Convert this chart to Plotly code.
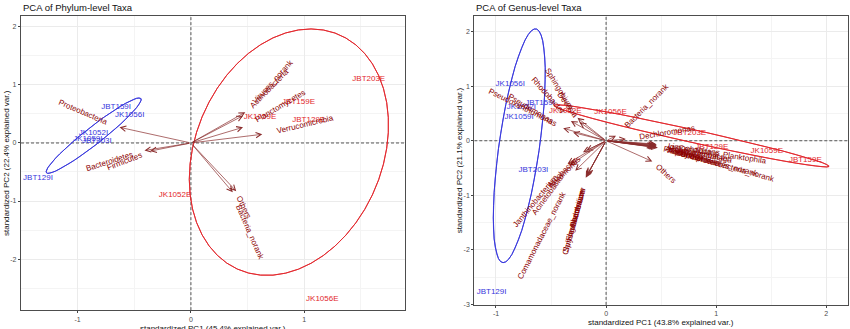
import math
import numpy as np
import plotly.graph_objects as go

W, H = 850, 329
FONT = "Liberation Sans, Arial, Helvetica, sans-serif"

# ---------------- Phylum-level PCA ----------------
phy_samples = ["JBT159I", "JK1056I", "JK1052I", "JK1059I", "JBT203I", "JBT129I",
               "JBT203E", "JBT159E", "JK1059E", "JBT129E", "JK1052E", "JK1056E"]
phy_pc1 = [-0.66, -0.54, -0.86, -0.91, -0.83, -1.35, 1.57, 0.95, 0.61, 1.04, -0.14, 1.16]
phy_pc2 = [0.62, 0.48, 0.18, 0.06, 0.03, -0.61, 1.10, 0.70, 0.44, 0.39, -0.90, -2.68]
phy_group = ["I"] * 6 + ["E"] * 6

phy_vars = ["Proteobacteria", "Bacteroidetes", "Firmicutes", "Viruses_norank",
            "Actinobacteria", "Planctomycetes", "Verrucomicrobia", "Others", "Bacteria_norank"]
phy_var_pc1 = [-0.63, -0.41, -0.36, 0.48, 0.46, 0.46, 0.63, 0.40, 0.37]
phy_var_pc2 = [0.27, -0.13, -0.14, 0.53, 0.47, 0.27, 0.15, -0.83, -0.85]

# ---------------- Genus-level PCA ----------------
gen_samples = ["JK1056I", "JBT159I", "JK1052I", "JK1059I", "JBT203I", "JBT129I",
               "JK1052E", "JK1056E", "JBT203E", "JBT129E", "JK1059E", "JBT159E"]
gen_pc1 = [-0.87, -0.60, -0.77, -0.79, -0.66, -1.04, -0.37, 0.04, 0.76, 0.96, 1.46, 1.81]
gen_pc2 = [1.04, 0.69, 0.61, 0.43, -0.54, -2.78, 0.54, 0.52, 0.145, -0.115, -0.19, -0.36]
gen_group = ["I"] * 6 + ["E"] * 6

gen_vars = ["Pseudoxanthomonas", "Pseudomonas", "Sphingobium", "Rhodobacter", "Devosia",
            "Janthinobacterium", "Acinetobacter", "Arcobacter", "Aeromonas",
            "Comamonadaceae_norank", "Chryseobacterium", "Flavobacterium", "Pedobacter",
            "Sphingobacterium",
            "Bacteria_norank", "Dechloromonas", "Others",
            "Limnohabitans", "Polynucleobacter", "Candidatus_Planktophila", "Acidovorax",
            "Aquabacterium", "Hydrogenophaga", "Methylotenera", "Rhodoferax",
            "Burkholderiales_norank", "Betaproteobacteria_norank"]
gen_var_pc1 = [-0.30, -0.39, -0.26, -0.32, -0.24,
               -0.35, -0.33, -0.21, -0.18,
               -0.28, -0.18, -0.175, -0.185, -0.17,
               0.09, 0.18, 0.42,
               0.45, 0.44, 0.46, 0.45, 0.44, 0.46, 0.45, 0.43, 0.46, 0.47]
gen_var_pc2 = [0.15, 0.23, 0.42, 0.36, 0.34,
               -0.42, -0.45, -0.21, -0.18,
               -0.55, -0.66, -0.64, -0.68, -0.62,
               0.09, 0.03, -0.38,
               -0.06, -0.08, -0.07, -0.10, -0.11, -0.09, -0.12, -0.10, -0.12, -0.13]

# ---------------- styling ----------------
COL = {"I": "#3636DC", "E": "#E2262B"}
ARROW_COL = "#8A2C2C"
VAR_COL = "#8B0000"
VAR_FS = 8
SAMPLE_FS = 8

AW = {'a': 556, 'b': 556, 'c': 500, 'd': 556, 'e': 556, 'f': 278, 'g': 556, 'h': 556, 'i': 222,
      'j': 222, 'k': 500, 'l': 222, 'm': 833, 'n': 556, 'o': 556, 'p': 556, 'q': 556, 'r': 333,
      's': 500, 't': 278, 'u': 556, 'v': 500, 'w': 722, 'x': 500, 'y': 500, 'z': 500,
      'A': 667, 'B': 667, 'C': 722, 'D': 722, 'E': 667, 'F': 611, 'G': 778, 'H': 722, 'I': 278,
      'J': 500, 'K': 667, 'L': 556, 'M': 833, 'N': 722, 'O': 778, 'P': 667, 'Q': 778, 'R': 722,
      'S': 667, 'T': 611, 'U': 722, 'V': 667, 'W': 944, 'X': 667, 'Y': 667, 'Z': 611, '_': 556}


def text_w(s, fs):
    return sum(AW.get(c, 556) for c in s) / 1000.0 * fs


def ellipse(xs, ys, prob=0.68, n=100):
    X = np.column_stack([xs, ys])
    mu = X.mean(axis=0)
    sigma = np.cov(X.T)
    ed = math.sqrt(-2.0 * math.log(1.0 - prob))
    th = np.concatenate([np.linspace(-np.pi, np.pi, n // 2), np.linspace(np.pi, -np.pi, n // 2)])
    circ = np.column_stack([np.cos(th), np.sin(th)])
    R = np.linalg.cholesky(sigma).T
    pts = circ @ R * ed + mu
    return pts[:, 0], pts[:, 1]


fig = go.Figure()
annotations = []

panels = [
    dict(xa="x", ya="y", xdom=(21 / W, 405 / W), ydom=((H - 313) / H, (H - 16) / H),
         xr=(-1.50, 1.89), yr=(-2.88, 2.19),
         samples=phy_samples, s1=phy_pc1, s2=phy_pc2, groups=phy_group,
         vars=phy_vars, v1=phy_var_pc1, v2=phy_var_pc2,
         xt=[-1, 0, 1], yt=[-2, -1, 0, 1, 2],
         xm=[-1.5, -0.5, 0.5, 1.5], ym=[-2.5, -1.5, -0.5, 0.5, 1.5],
         title="PCA of Phylum-level Taxa",
         xtitle="standardized PC1 (45.4% explained var.)",
         ytitle="standardized PC2 (22.4% explained var.)",
         ytitle_x=6, xtitle_y=332),
    dict(xa="x2", ya="y2", xdom=(474.3 / W, 848.3 / W), ydom=((H - 307.7) / H, (H - 16) / H),
         xr=(-1.197, 2.20), yr=(-3.01, 2.29),
         samples=gen_samples, s1=gen_pc1, s2=gen_pc2, groups=gen_group,
         vars=gen_vars, v1=gen_var_pc1, v2=gen_var_pc2,
         xt=[-1, 0, 1, 2], yt=[-3, -2, -1, 0, 1, 2],
         xm=[-0.5, 0.5, 1.5], ym=[-2.5, -1.5, -0.5, 0.5, 1.5],
         title="PCA of Genus-level Taxa",
         xtitle="standardized PC1 (43.8% explained var.)",
         ytitle="standardized PC2 (21.1% explained var.)",
         ytitle_x=459, xtitle_y=325.5),
]

layout_axes = {}
for i, p in enumerate(panels):
    xa, ya = p["xa"], p["ya"]
    sx = (p["xdom"][1] - p["xdom"][0]) * W / (p["xr"][1] - p["xr"][0])
    sy = (p["ydom"][1] - p["ydom"][0]) * H / (p["yr"][1] - p["yr"][0])

    # zero lines (dashed)
    fig.add_trace(go.Scatter(x=[0, 0], y=list(p["yr"]), mode="lines", xaxis=xa, yaxis=ya,
                             line=dict(color="#555555", width=1, dash="3px,2px"),
                             hoverinfo="skip", showlegend=False))
    fig.add_trace(go.Scatter(x=list(p["xr"]), y=[0, 0], mode="lines", xaxis=xa, yaxis=ya,
                             line=dict(color="#555555", width=1, dash="3px,2px"),
                             hoverinfo="skip", showlegend=False))

    # arrows
    for name, vx, vy in zip(p["vars"], p["v1"], p["v2"]):
        annotations.append(dict(x=vx, y=vy, ax=0, ay=0, xref=xa, yref=ya, axref=xa, ayref=ya,
                                text="", showarrow=True, arrowhead=5, arrowsize=1.5,
                                arrowwidth=0.7, arrowcolor=ARROW_COL, standoff=0))

    # sample labels and ellipses
    for g in ["I", "E"]:
        idx = [k for k, gg in enumerate(p["groups"]) if gg == g]
        xs = [p["s1"][k] for k in idx]
        ys = [p["s2"][k] for k in idx]
        ex, ey = ellipse(xs, ys)
        fig.add_trace(go.Scatter(x=ex, y=ey, mode="lines", xaxis=xa, yaxis=ya,
                                 line=dict(color=COL[g], width=0.9), hoverinfo="skip",
                                 showlegend=False))
        fig.add_trace(go.Scatter(x=xs, y=ys, mode="text", xaxis=xa, yaxis=ya,
                                 text=[p["samples"][k] for k in idx],
                                 textfont=dict(family=FONT, size=SAMPLE_FS, color=COL[g]),
                                 textposition="middle center", showlegend=False,
                                 hoverinfo="skip"))

    # variable names (ggbiplot style: angle from data direction, hjust outward)
    for name, vx, vy in zip(p["vars"], p["v1"], p["v2"]):
        th = math.atan(vy / vx)
        s = 1 if vx > 0 else -1
        w = text_w(name, VAR_FS)
        d = 0.75 * w * s
        cx = vx + d * math.cos(th) / sx
        cy = vy + d * math.sin(th) / sy
        annotations.append(dict(x=cx, y=cy, xref=xa, yref=ya, text=name, showarrow=False,
                                textangle=-math.degrees(th), xanchor="center", yanchor="middle",
                                font=dict(family=FONT, size=VAR_FS, color=VAR_COL)))

    # titles
    annotations.append(dict(x=p["xdom"][0], y=1 - 8 / H, xref="paper", yref="paper",
                            text=p["title"], showarrow=False, xanchor="left", yanchor="middle",
                            font=dict(family=FONT, size=9.5, color="#111111")))
    annotations.append(dict(x=(p["xdom"][0] + p["xdom"][1]) / 2, y=(H - p["xtitle_y"]) / H,
                            xref="paper", yref="paper", text=p["xtitle"], showarrow=False,
                            xanchor="center", yanchor="middle",
                            font=dict(family=FONT, size=8, color="#111111")))
    annotations.append(dict(x=p["ytitle_x"] / W, y=(p["ydom"][0] + p["ydom"][1]) / 2,
                            xref="paper", yref="paper", text=p["ytitle"], showarrow=False,
                            textangle=-90, xanchor="center", yanchor="middle",
                            font=dict(family=FONT, size=8, color="#111111")))

    common = dict(showline=True, mirror=True, linecolor="#4D4D4D", linewidth=1.2,
                  zeroline=False, showgrid=True, gridcolor="#EBEBEB", gridwidth=0.8,
                  ticks="outside", ticklen=2, tickwidth=0.7, tickcolor="#444444",
                  tickfont=dict(family=FONT, size=7, color="#4D4D4D"), fixedrange=True)
    key = "" if i == 0 else "2"
    layout_axes["xaxis" + key] = dict(domain=list(p["xdom"]), range=list(p["xr"]),
                                      anchor=ya, tickvals=p["xt"],
                                      ticktext=[str(v) for v in p["xt"]],
                                      minor=dict(tickvals=p["xm"], showgrid=True,
                                                 gridcolor="#F4F4F4", gridwidth=0.5, ticks=""),
                                      **common)
    layout_axes["yaxis" + key] = dict(domain=list(p["ydom"]), range=list(p["yr"]),
                                      anchor=xa, tickvals=p["yt"],
                                      ticktext=[str(v) for v in p["yt"]],
                                      minor=dict(tickvals=p["ym"], showgrid=True,
                                                 gridcolor="#F4F4F4", gridwidth=0.5, ticks=""),
                                      **common)

fig.update_layout(width=W, height=H, margin=dict(l=0, r=0, t=0, b=0),
                  paper_bgcolor="white", plot_bgcolor="white", showlegend=False,
                  annotations=annotations, font=dict(family=FONT),
                  **layout_axes)

fig.write_html("out.html")
